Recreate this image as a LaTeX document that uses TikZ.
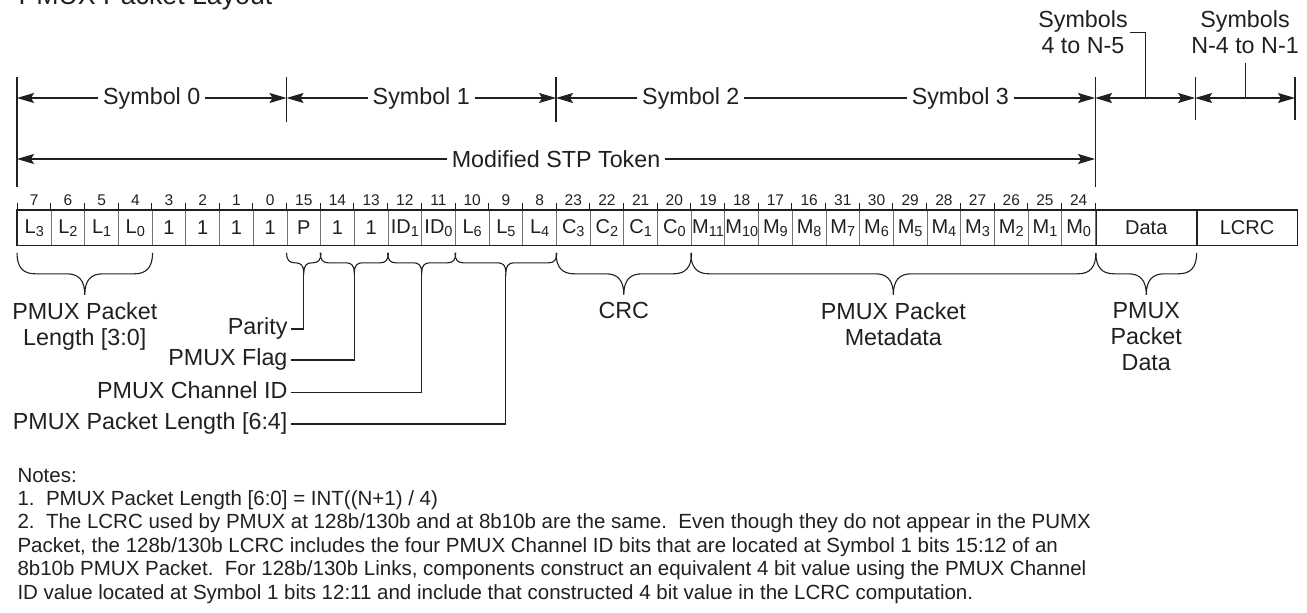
\documentclass[tikz,border=0pt]{standalone}
\usepackage{fontspec}
\setmainfont{Liberation Sans}
\usetikzlibrary{arrows.meta, positioning, calc}
\definecolor{InkGray}{RGB}{35, 31, 32}
\definecolor{RuleGray}{RGB}{115, 115, 115}
\newcommand{\bitsub}[1]{\raisebox{-0.3ex}{\fontsize{14.5}{14.5}\selectfont #1}}
% curly brace under a field: left, right, curl radius, depth, tip name
\newcommand{\fieldbrace}[5]{%
  \draw let \p1=($(#1)+(0,7)$), \p2=($(#2)+(0,7)$), \p3=($(\p1)!0.5!(\p2)$) in
    (\p1) .. controls (\x1, \y1-0.35*#4pt) and (\x1+0.35*#3pt, \y1-0.5*#4pt) .. (\x1+#3pt, \y1-0.5*#4pt)
    -- (\x3-#3pt, \y1-0.5*#4pt)
    .. controls (\x3-0.35*#3pt, \y1-0.5*#4pt) and (\x3, \y1-0.65*#4pt) .. (\x3, \y1-#4pt) coordinate (#5)
    .. controls (\x3, \y1-0.65*#4pt) and (\x3+0.35*#3pt, \y1-0.5*#4pt) .. (\x3+#3pt, \y1-0.5*#4pt)
    -- (\x2-#3pt, \y1-0.5*#4pt)
    .. controls (\x2-0.35*#3pt, \y1-0.5*#4pt) and (\x2, \y1-0.35*#4pt) .. (\p2);
}

\begin{document}
\begin{tikzpicture}[x=1pt, y=-1pt, line width=1.1pt, draw=InkGray, text=InkGray,
    bitcell/.style={draw=RuleGray, line width=0.8pt, minimum width=33.69pt, minimum height=35pt, inner sep=0pt, anchor=north west, font=\fontsize{20}{20}\selectfont},
    bitnum/.style={inner sep=0pt, font=\fontsize{15.5}{15.5}\selectfont},
    fieldlab/.style={inner sep=2pt, align=center, font=\fontsize{23.3}{26}\selectfont},
    leaderlab/.style={inner sep=3pt, anchor=east, text height=16.5pt, text depth=5pt, font=\fontsize{23.3}{26}\selectfont},
    dimtext/.style={fill=white, inner sep=5pt, font=\fontsize{23.3}{26}\selectfont},
    dim/.style={{Stealth[length=17pt,width=10pt,inset=3pt]}-{Stealth[length=17pt,width=10pt,inset=3pt]}}]
  \useasboundingbox (0,0) rectangle (1307,613);

  % title (cut at the top edge)
  \node[anchor=base west, inner sep=0pt, font=\fontsize{26.7}{30}\selectfont] (title) at (18,5) {PMUX Packet Layout};

  % bit cells
  \foreach \lbl [count=\i from 0] in {L\bitsub{3}, L\bitsub{2}, L\bitsub{1}, L\bitsub{0}, 1, 1, 1, 1, P, 1, 1, ID\bitsub{1}, ID\bitsub{0}, L\bitsub{6}, L\bitsub{5}, L\bitsub{4}, C\bitsub{3}, C\bitsub{2}, C\bitsub{1}, C\bitsub{0}, M\bitsub{11}, M\bitsub{10}, M\bitsub{9}, M\bitsub{8}, M\bitsub{7}, M\bitsub{6}, M\bitsub{5}, M\bitsub{4}, M\bitsub{3}, M\bitsub{2}, M\bitsub{1}, M\bitsub{0}}
    \node[bitcell] (c\i) at ({17+33.69*\i},210) {\lbl};
  \node[bitcell, draw=InkGray, minimum width=100pt] (data) at (c31.north east) {Data};
  \node[bitcell, draw=InkGray, minimum width=100pt] (lcrc) at (data.north east) {LCRC};
  \draw (c0.north west) rectangle (lcrc.south east);

  % bit numbers and ticks
  \foreach \n [count=\i from 0] in {7,6,5,4,3,2,1,0,15,14,13,12,11,10,9,8,23,22,21,20,19,18,17,16,31,30,29,28,27,26,25,24}
    \node[bitnum] (n\i) at ($(c\i.north)+(0,-10)$) {\n};
  \foreach \i in {0,...,31}
    \draw[line width=0.9pt] (c\i.north west) -- ++(0,-7);
  \draw[line width=0.9pt] (c31.north east) -- ++(0,-7);

  % symbol boundaries
  \draw (17,77) -- (17,187);
  \draw (286.52,77) -- (286.52,122);
  \draw (556.04,77) -- (556.04,122);
  \draw (1095.08,77) -- (1095.08,187);
  \draw (1195.08,77) -- (1195.08,120);
  \draw (1295,77) -- (1295,120);

  \coordinate (a0) at (17,98);
  \coordinate (a8) at (286.52,98);
  \coordinate (a16) at (556.04,98);
  \coordinate (a32) at (1095.08,98);
  \coordinate (a33) at (1195.08,98);
  \coordinate (a34) at (1295,98);
  \coordinate (m0) at (17,159);
  \coordinate (m32) at (1095.08,159);

  \draw[dim] (a0) -- node[dimtext] {Symbol 0} (a8);
  \draw[dim] (a8) -- node[dimtext] {Symbol 1} (a16);
  \draw[dim] (a16) -- node[dimtext, pos=0.25] {Symbol 2} node[dimtext, pos=0.75] {Symbol 3} (a32);
  \draw[dim] (a32) -- coordinate[midway] (a4mid) (a33);
  \draw[dim] (a33) -- coordinate[midway] (aNmid) (a34);
  \draw[dim] (m0) -- node[dimtext] {Modified STP Token} (m32);

  \node[fieldlab] (sym4) at (1083,32.4) {Symbols\\4 to N-5};
  \node[fieldlab] (symN) at (1245,32.4) {Symbols\\N-4 to N-1};
  \draw (a4mid) |- (sym4.east);
  \draw (aNmid) -- ($(aNmid |- symN.south)+(0,6)$);

  % braces under the fields
  \fieldbrace{c0.south west}{c3.south east}{18}{42}{tipLow}
  \fieldbrace{c8.south west}{c8.south east}{8}{20}{tipPar}
  \fieldbrace{c9.south west}{c10.south east}{8}{20}{tipFlag}
  \fieldbrace{c11.south west}{c12.south east}{8}{20}{tipChan}
  \fieldbrace{c13.south west}{c15.south east}{8}{20}{tipHigh}
  \fieldbrace{c16.south west}{c19.south east}{18}{42}{tipCrc}
  \fieldbrace{c20.south west}{c31.south east}{18}{42}{tipMeta}
  \fieldbrace{data.south west}{data.south east}{18}{42}{tipData}

  \node[fieldlab, anchor=north] (lowlab) at ($(tipLow)+(0,5)$) {PMUX Packet\\Length [3:0]};
  \node[fieldlab, anchor=north] (crclab) at ($(tipCrc)+(0,5)$) {CRC};
  \node[fieldlab, anchor=north] (metalab) at ($(tipMeta)+(0,5)$) {PMUX Packet\\Metadata};
  \node[fieldlab, anchor=north] (datalab) at ($(tipData)+(0,5)$) {PMUX\\Packet\\Data};

  \node[leaderlab] (parity) at (291,329) {Parity};
  \node[leaderlab] (flag) at (291,360) {PMUX Flag};
  \node[leaderlab] (chan) at (291,392.7) {PMUX Channel ID};
  \node[leaderlab] (plen) at (291,424) {PMUX Packet Length [6:4]};
  \draw (tipPar) |- (parity.east);
  \draw (tipFlag) |- (flag.east);
  \draw (tipChan) |- (chan.east);
  \draw (tipHigh) |- (plen.east);

  % notes
  \node[anchor=north west, inner sep=0pt, align=left, font=\fontsize{20.5}{23.4}\selectfont] (notes) at (17,467.5) {Notes:\\
    1.\ \ PMUX Packet Length [6:0] = INT((N+1) / 4)\\
    2.\ \ The LCRC used by PMUX at 128b/130b and at 8b10b are the same.\ \ Even though they do not appear in the PUMX\\
    Packet, the 128b/130b LCRC includes the four PMUX Channel ID bits that are located at Symbol 1 bits 15:12 of an\\
    8b10b PMUX Packet.\ \ For 128b/130b Links, components construct an equivalent 4 bit value using the PMUX Channel\\
    ID value located at Symbol 1 bits 12:11 and include that constructed 4 bit value in the LCRC computation.};
\end{tikzpicture}
\end{document}
